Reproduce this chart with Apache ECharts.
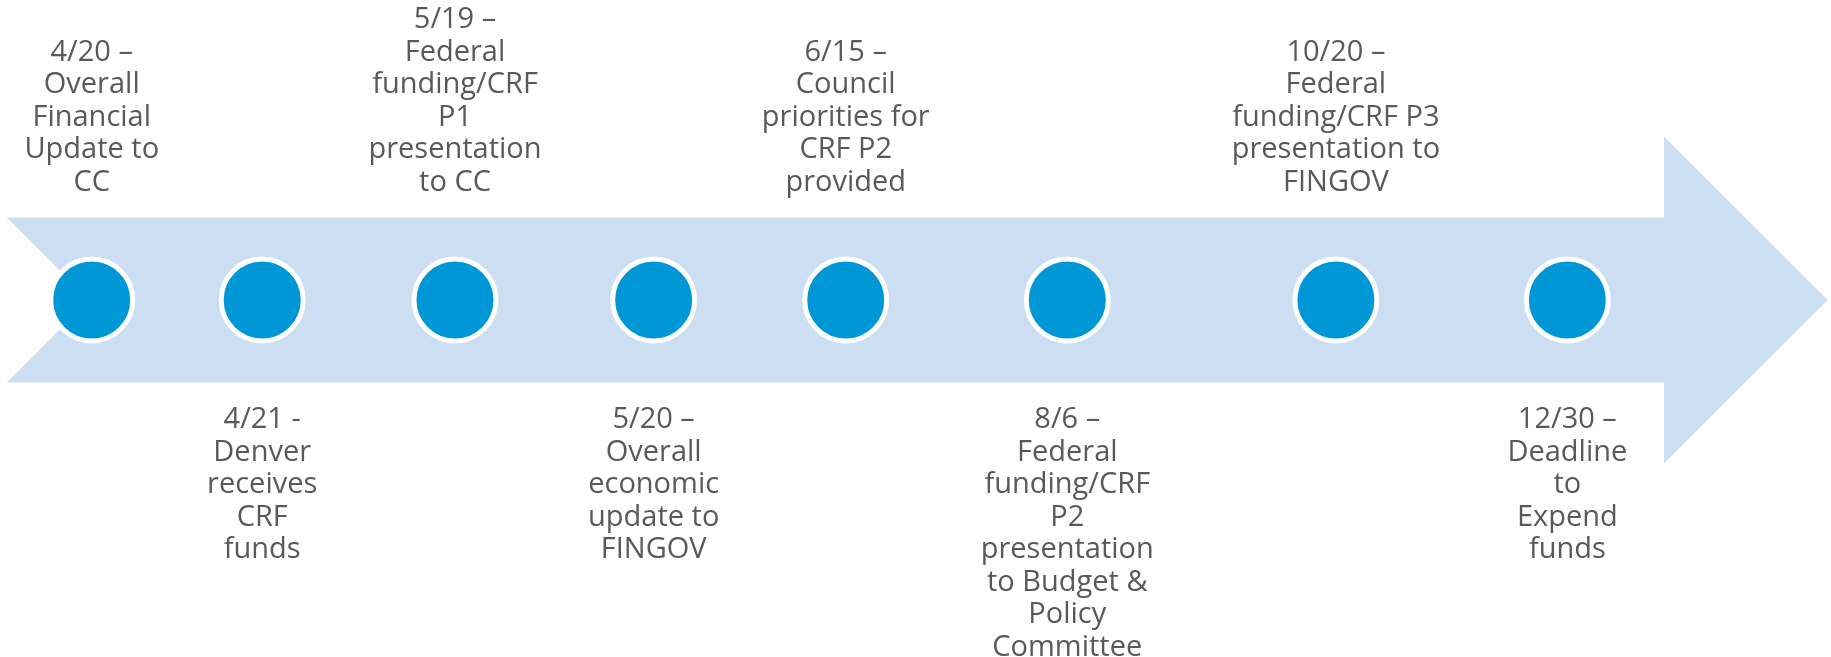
<!DOCTYPE html>
<html>
<head>
<meta charset="utf-8">
<script src="https://cdn.jsdelivr.net/npm/echarts@6/dist/echarts.min.js"></script>
<style>
  html, body { margin: 0; padding: 0; background: #ffffff; }
  #chart { width: 1831px; height: 657px; }
</style>
</head>
<body>
<div id="chart"></div>
<script>
// ---- Data ----
// Event order along the timeline (timeline position, 0-100 scale)
const eventPos = [5.01, 14.32, 24.85, 35.70, 46.19, 58.29, 72.96, 85.60];
// Which side of the arrow each label sits on
const eventSide = ['top', 'bottom', 'top', 'bottom', 'top', 'bottom', 'top', 'bottom'];
// Label texts (as broken into lines in the original)
const eventLabels = [
  '4/20 –\nOverall\nFinancial\nUpdate to\nCC',
  '4/21 -\nDenver\nreceives\nCRF\nfunds',
  '5/19 –\nFederal\nfunding/CRF\nP1\npresentation\nto CC',
  '5/20 –\nOverall\neconomic\nupdate to\nFINGOV',
  '6/15 –\nCouncil\npriorities for\nCRF P2\nprovided',
  '8/6 –\nFederal\nfunding/CRF\nP2\npresentation\nto Budget &\nPolicy\nCommittee',
  '10/20 –\nFederal\nfunding/CRF P3\npresentation to\nFINGOV',
  '12/30 –\nDeadline\nto\nExpend\nfunds'
];

// ---- Styling / geometry (not data) ----
const BAND = '#CCDEF1';
const DOT = '#0097D6';
const TEXT = '#595959';
const FONT = 'Open Sans';

const arrowShape = {
  left: 0.37, notch: 4.87, headBase: 90.88, tip: 99.82,
  bandHalf: 0.275, headHalf: 0.545
};

const chart = echarts.init(document.getElementById('chart'), null, { renderer: 'canvas' });

const topData = [], bottomData = [];
eventPos.forEach((x, i) => {
  const item = { value: [x, 0], label: { formatter: eventLabels[i] } };
  if (eventSide[i] === 'top') topData.push(item); else bottomData.push(item);
});

function labelStyle(pos, dist) {
  return {
    show: true,
    position: pos,
    distance: dist,
    color: TEXT,
    fontFamily: FONT,
    fontSize: 29,
    lineHeight: 32.5,
    align: 'center'
  };
}

const option = {
  backgroundColor: '#ffffff',
  animation: false,
  grid: { left: 0, right: 0, top: 0, bottom: 57 },
  xAxis: { type: 'value', min: 0, max: 100, show: false },
  yAxis: { type: 'value', min: -1, max: 1, show: false },
  series: [
    {
      type: 'custom',
      silent: true,
      z: 1,
      data: [[0]],
      renderItem: function (params, api) {
        const a = arrowShape;
        const pts = [
          [a.left, a.bandHalf],
          [a.headBase, a.bandHalf],
          [a.headBase, a.headHalf],
          [a.tip, 0],
          [a.headBase, -a.headHalf],
          [a.headBase, -a.bandHalf],
          [a.left, -a.bandHalf],
          [a.notch, 0]
        ].map(p => api.coord(p));
        return {
          type: 'polygon',
          shape: { points: pts },
          style: { fill: BAND, stroke: null }
        };
      }
    },
    {
      type: 'scatter',
      z: 3,
      symbol: 'circle',
      symbolSize: 82,
      itemStyle: { color: DOT, borderColor: '#ffffff', borderWidth: 5, opacity: 1 },
      label: labelStyle('top', 58),
      data: topData
    },
    {
      type: 'scatter',
      z: 3,
      symbol: 'circle',
      symbolSize: 82,
      itemStyle: { color: DOT, borderColor: '#ffffff', borderWidth: 5, opacity: 1 },
      label: labelStyle('bottom', 60),
      data: bottomData
    }
  ]
};

chart.setOption(option);
</script>
</body>
</html>
